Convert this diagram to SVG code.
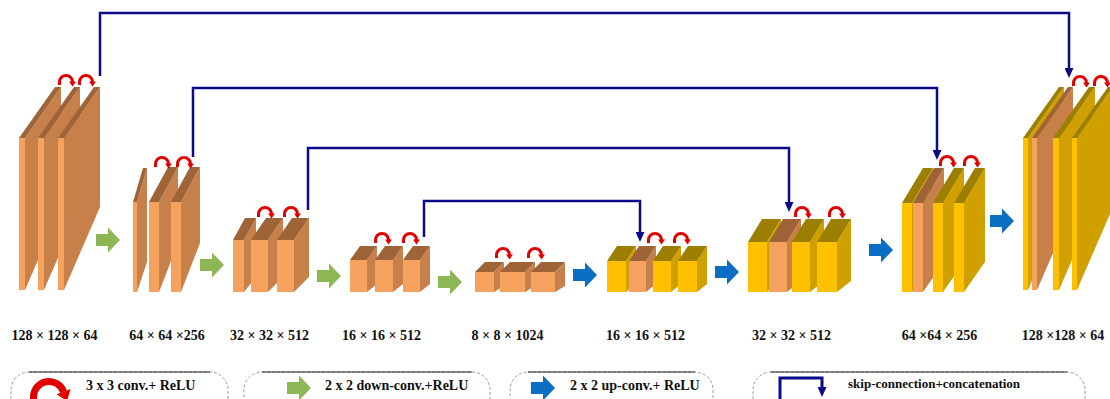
<svg xmlns="http://www.w3.org/2000/svg" width="1110" height="399" viewBox="0 0 1110 399">
  <style>
    .of { fill: #F5A25F; }
    .os { fill: #C8804A; }
    .ot { fill: #9E6438; }
    .yf { fill: #FFC000; }
    .ys { fill: #D0A000; }
    .yt { fill: #9C7F00; }
    .arc { fill: none; stroke: #E00000; stroke-width: 3; }
    .skip { fill: none; stroke: #0B0B8A; stroke-width: 2.5; marker-end: url(#navyHead); }
    .down { fill: #8DB654; }
    .up { fill: #0A6FC2; }
    .lbl { font-family: "Liberation Serif", "Times New Roman", serif; font-weight: bold; font-size: 14px; fill: #111; text-anchor: middle; }
    .leg { font-family: "Liberation Serif", "Times New Roman", serif; font-weight: bold; font-size: 14px; fill: #111; }
    .leg.small { font-size: 13px; }
    .lbox { fill: none; stroke: #9A9A9A; stroke-width: 1; stroke-dasharray: 3 2; }
    .ltop { stroke: #222; stroke-width: 1.2; }
  </style>
  <defs>
    <marker id="navyHead" viewBox="0 0 10 9" refX="3" refY="4.5" markerWidth="10" markerHeight="9" markerUnits="userSpaceOnUse" orient="auto">
      <path d="M0,0 L10,4.5 L0,9 Z" fill="#0B0B8A"/>
    </marker>
    <!-- 3x3 conv + ReLU curl -->
    <g id="conv">
      <path class="arc" d="M0,0 V-3 A6.5,6.5 0 0 1 13,-3"/>
      <polygon points="9.5,-3.5 16.5,-3.5 13,1.5" fill="#E00000"/>
    </g>
    <!-- block arrow used for down/up convolution -->
    <polygon id="blockArrow" points="0,-6 12,-6 12,-12.5 24,0 12,12.5 12,6 0,6"/>
  </defs>

  <rect width="1110" height="399" fill="#FFFFFF"/>

  <!-- skip connections and flow arrows -->
  <g id="connectors">
    <path class="skip" d="M100,76 V13 H1069 V71"/>
    <path class="skip" d="M193,157 V88 H937 V153"/>
    <path class="skip" d="M308,210 V148 H789 V205"/>
    <path class="skip" d="M424,237 V201 H640 V235"/>
    <use href="#blockArrow" class="down" x="96" y="240"/>
    <use href="#blockArrow" class="down" x="200" y="265"/>
    <use href="#blockArrow" class="down" x="317" y="276"/>
    <use href="#blockArrow" class="down" x="438" y="282"/>
    <use href="#blockArrow" class="up" x="573" y="275"/>
    <use href="#blockArrow" class="up" x="715" y="272"/>
    <use href="#blockArrow" class="up" x="869" y="250"/>
    <use href="#blockArrow" class="up" x="990" y="221"/>
  </g>

  <!-- encoder 128 x 128 x 64 -->
  <g id="enc1">
    <polygon class="os" points="25,138 61,87 61,207 25,290"/>
    <polygon class="ot" points="19,138 25,138 61,87 55,87"/>
    <rect class="of" x="19" y="138" width="6" height="152"/>
    <polygon class="os" points="44,138 80,87 80,207 44,290"/>
    <polygon class="ot" points="38,138 44,138 80,87 74,87"/>
    <rect class="of" x="38" y="138" width="6" height="152"/>
    <polygon class="os" points="64,138 100,87 100,207 64,290"/>
    <polygon class="ot" points="58,138 64,138 100,87 94,87"/>
    <rect class="of" x="58" y="138" width="6" height="152"/>
    <use href="#conv" x="59.5" y="85"/>
    <use href="#conv" x="79.5" y="85"/>
  </g>

  <!-- encoder 64 x 64 x 256 -->
  <g id="enc2">
    <polygon class="os" points="137,202 147,168 147,262 137,292"/>
    <polygon class="ot" points="133,202 137,202 147,168 143,168"/>
    <rect class="of" x="133" y="202" width="4" height="90"/>
    <polygon class="os" points="159,202 178,167 178,243 159,292"/>
    <polygon class="ot" points="149,202 159,202 178,167 168,167"/>
    <rect class="of" x="149" y="202" width="10" height="90"/>
    <polygon class="os" points="181,202 200,167 200,243 181,292"/>
    <polygon class="ot" points="171,202 181,202 200,167 190,167"/>
    <rect class="of" x="171" y="202" width="10" height="90"/>
    <use href="#conv" x="155.5" y="167"/>
    <use href="#conv" x="177.5" y="167"/>
  </g>

  <!-- encoder 32 x 32 x 512 -->
  <g id="enc3">
    <polygon class="os" points="244,240 256,218 256,277 244,292"/>
    <polygon class="ot" points="233,240 244,240 256,218 245,218"/>
    <rect class="of" x="233" y="240" width="11" height="52"/>
    <polygon class="os" points="268,240 283,218 283,277 268,292"/>
    <polygon class="ot" points="251,240 268,240 283,218 266,218"/>
    <rect class="of" x="251" y="240" width="17" height="52"/>
    <polygon class="os" points="294,240 309,218 309,277 294,292"/>
    <polygon class="ot" points="277,240 294,240 309,218 292,218"/>
    <rect class="of" x="277" y="240" width="17" height="52"/>
    <use href="#conv" x="258.5" y="217"/>
    <use href="#conv" x="284.5" y="217"/>
  </g>

  <!-- encoder 16 x 16 x 512 -->
  <g id="enc4">
    <polygon class="os" points="367,260 377,246 377,284 367,292"/>
    <polygon class="ot" points="350,260 367,260 377,246 360,246"/>
    <rect class="of" x="350" y="260" width="17" height="32"/>
    <polygon class="os" points="393,260 403,246 403,284 393,292"/>
    <polygon class="ot" points="375,260 393,260 403,246 385,246"/>
    <rect class="of" x="375" y="260" width="18" height="32"/>
    <polygon class="os" points="420,260 430,246 430,284 420,292"/>
    <polygon class="ot" points="403,260 420,260 430,246 413,246"/>
    <rect class="of" x="403" y="260" width="17" height="32"/>
    <use href="#conv" x="375.5" y="243"/>
    <use href="#conv" x="403.5" y="243"/>
  </g>

  <!-- bottleneck 8 x 8 x 1024 -->
  <g id="bottleneck">
    <polygon class="os" points="494,272 504,262 504,286 494,292"/>
    <polygon class="ot" points="475,272 494,272 504,262 485,262"/>
    <rect class="of" x="475" y="272" width="19" height="20"/>
    <polygon class="os" points="525,272 535,262 535,286 525,292"/>
    <polygon class="ot" points="500,272 525,272 535,262 510,262"/>
    <rect class="of" x="500" y="272" width="25" height="20"/>
    <polygon class="os" points="555,272 565,262 565,286 555,292"/>
    <polygon class="ot" points="531,272 555,272 565,262 541,262"/>
    <rect class="of" x="531" y="272" width="24" height="20"/>
    <use href="#conv" x="496.5" y="258"/>
    <use href="#conv" x="528.5" y="258"/>
  </g>

  <!-- decoder 16 x 16 x 512 -->
  <g id="dec1">
    <polygon class="ys" points="626,261 636,246 636,284 626,292"/>
    <polygon class="yt" points="607,261 626,261 636,246 617,246"/>
    <rect class="yf" x="607" y="261" width="19" height="31"/>
    <polygon class="os" points="646,261 656,246 656,284 646,292"/>
    <polygon class="ot" points="629,261 646,261 656,246 639,246"/>
    <rect class="of" x="629" y="261" width="17" height="31"/>
    <polygon class="ys" points="671,261 681,246 681,284 671,292"/>
    <polygon class="yt" points="653,261 671,261 681,246 663,246"/>
    <rect class="yf" x="653" y="261" width="18" height="31"/>
    <polygon class="ys" points="697,261 707,246 707,284 697,292"/>
    <polygon class="yt" points="678,261 697,261 707,246 688,246"/>
    <rect class="yf" x="678" y="261" width="19" height="31"/>
    <use href="#conv" x="648.5" y="243"/>
    <use href="#conv" x="674.5" y="243"/>
  </g>

  <!-- decoder 32 x 32 x 512 -->
  <g id="dec2">
    <polygon class="ys" points="767,242 781,219 781,281 767,292"/>
    <polygon class="yt" points="748,242 767,242 781,219 762,219"/>
    <rect class="yf" x="748" y="242" width="19" height="50"/>
    <polygon class="os" points="787,242 801,219 801,281 787,292"/>
    <polygon class="ot" points="769,242 787,242 801,219 783,219"/>
    <rect class="of" x="769" y="242" width="18" height="50"/>
    <polygon class="ys" points="810,242 824,219 824,281 810,292"/>
    <polygon class="yt" points="792,242 810,242 824,219 806,219"/>
    <rect class="yf" x="792" y="242" width="18" height="50"/>
    <polygon class="ys" points="837,242 851,219 851,281 837,292"/>
    <polygon class="yt" points="817,242 837,242 851,219 831,219"/>
    <rect class="yf" x="817" y="242" width="20" height="50"/>
    <use href="#conv" x="795.5" y="217"/>
    <use href="#conv" x="829.5" y="217"/>
  </g>

  <!-- decoder 64 x 64 x 256 -->
  <g id="dec3">
    <polygon class="ys" points="912,203 933,168 933,262 912,292"/>
    <polygon class="yt" points="902,203 912,203 933,168 923,168"/>
    <rect class="yf" x="902" y="203" width="10" height="89"/>
    <polygon class="os" points="923,203 944,168 944,262 923,292"/>
    <polygon class="ot" points="913,203 923,203 944,168 934,168"/>
    <rect class="of" x="913" y="203" width="10" height="89"/>
    <polygon class="ys" points="943,203 964,168 964,262 943,292"/>
    <polygon class="yt" points="933,203 943,203 964,168 954,168"/>
    <rect class="yf" x="933" y="203" width="10" height="89"/>
    <polygon class="ys" points="964,203 985,168 985,262 964,292"/>
    <polygon class="yt" points="954,203 964,203 985,168 975,168"/>
    <rect class="yf" x="954" y="203" width="10" height="89"/>
    <use href="#conv" x="940.5" y="166"/>
    <use href="#conv" x="964.5" y="166"/>
  </g>

  <!-- decoder 128 x 128 x 64 -->
  <g id="dec4">
    <polygon class="ys" points="1028,138 1064,87 1064,207 1028,290"/>
    <polygon class="yt" points="1023,138 1028,138 1064,87 1059,87"/>
    <rect class="yf" x="1023" y="138" width="5" height="152"/>
    <polygon class="os" points="1037,138 1073,87 1073,207 1037,290"/>
    <polygon class="ot" points="1032,138 1037,138 1073,87 1068,87"/>
    <rect class="of" x="1032" y="138" width="5" height="152"/>
    <polygon class="ys" points="1059,138 1095,87 1095,207 1059,290"/>
    <polygon class="yt" points="1053,138 1059,138 1095,87 1089,87"/>
    <rect class="yf" x="1053" y="138" width="6" height="152"/>
    <polygon class="ys" points="1077,138 1113,87 1113,207 1077,290"/>
    <polygon class="yt" points="1072,138 1077,138 1113,87 1108,87"/>
    <rect class="yf" x="1072" y="138" width="5" height="152"/>
    <use href="#conv" x="1073.5" y="86"/>
    <use href="#conv" x="1094.5" y="86"/>
  </g>

  <!-- feature map sizes -->
  <g id="sizes">
    <text class="lbl" x="54.5" y="340">128 × 128 × 64</text>
    <text class="lbl" x="167" y="340">64 × 64 ×256</text>
    <text class="lbl" x="269.5" y="340">32 × 32 × 512</text>
    <text class="lbl" x="381.5" y="340">16 × 16 × 512</text>
    <text class="lbl" x="507.5" y="340">8 × 8 × 1024</text>
    <text class="lbl" x="645.5" y="340">16 × 16 × 512</text>
    <text class="lbl" x="791.5" y="340">32 × 32 × 512</text>
    <text class="lbl" x="939.5" y="340">64 ×64 × 256</text>
    <text class="lbl" x="1063" y="340">128 ×128 × 64</text>
  </g>

  <!-- legend -->
  <g id="legend-conv">
    <rect class="lbox" x="11" y="372" width="217" height="50" rx="18"/>
    <line class="ltop" x1="29" y1="372" x2="210" y2="372"/>
    <path d="M33.5,401 L33.5,397 A15.5,15.5 0 0 1 63.6,391.7" fill="none" stroke="#E00000" stroke-width="7"/>
    <polygon points="70.6,389.1 56.6,394.3 67,401.1" fill="#E00000"/>
    <text class="leg" x="86" y="390">3 x 3 conv.+ ReLU</text>
  </g>
  <g id="legend-down">
    <rect class="lbox" x="244" y="372" width="246" height="50" rx="18"/>
    <line class="ltop" x1="262" y1="372" x2="472" y2="372"/>
    <use href="#blockArrow" class="down" x="287" y="388"/>
    <text class="leg" x="325" y="390">2 x 2 down-conv.+ReLU</text>
  </g>
  <g id="legend-up">
    <rect class="lbox" x="510" y="372" width="203" height="50" rx="18"/>
    <line class="ltop" x1="528" y1="372" x2="695" y2="372"/>
    <use href="#blockArrow" class="up" x="531" y="388"/>
    <text class="leg" x="570" y="390">2 x 2 up-conv.+ ReLU</text>
  </g>
  <g id="legend-skip">
    <rect class="lbox" x="753" y="372" width="332" height="50" rx="18"/>
    <line class="ltop" x1="771" y1="372" x2="1067" y2="372"/>
    <path d="M780,400 V378 H822 V390" fill="none" stroke="#0B0B8A" stroke-width="3" marker-end="url(#navyHead)"/>
    <text class="leg small" x="848" y="388">skip-connection+concatenation</text>
  </g>
</svg>
